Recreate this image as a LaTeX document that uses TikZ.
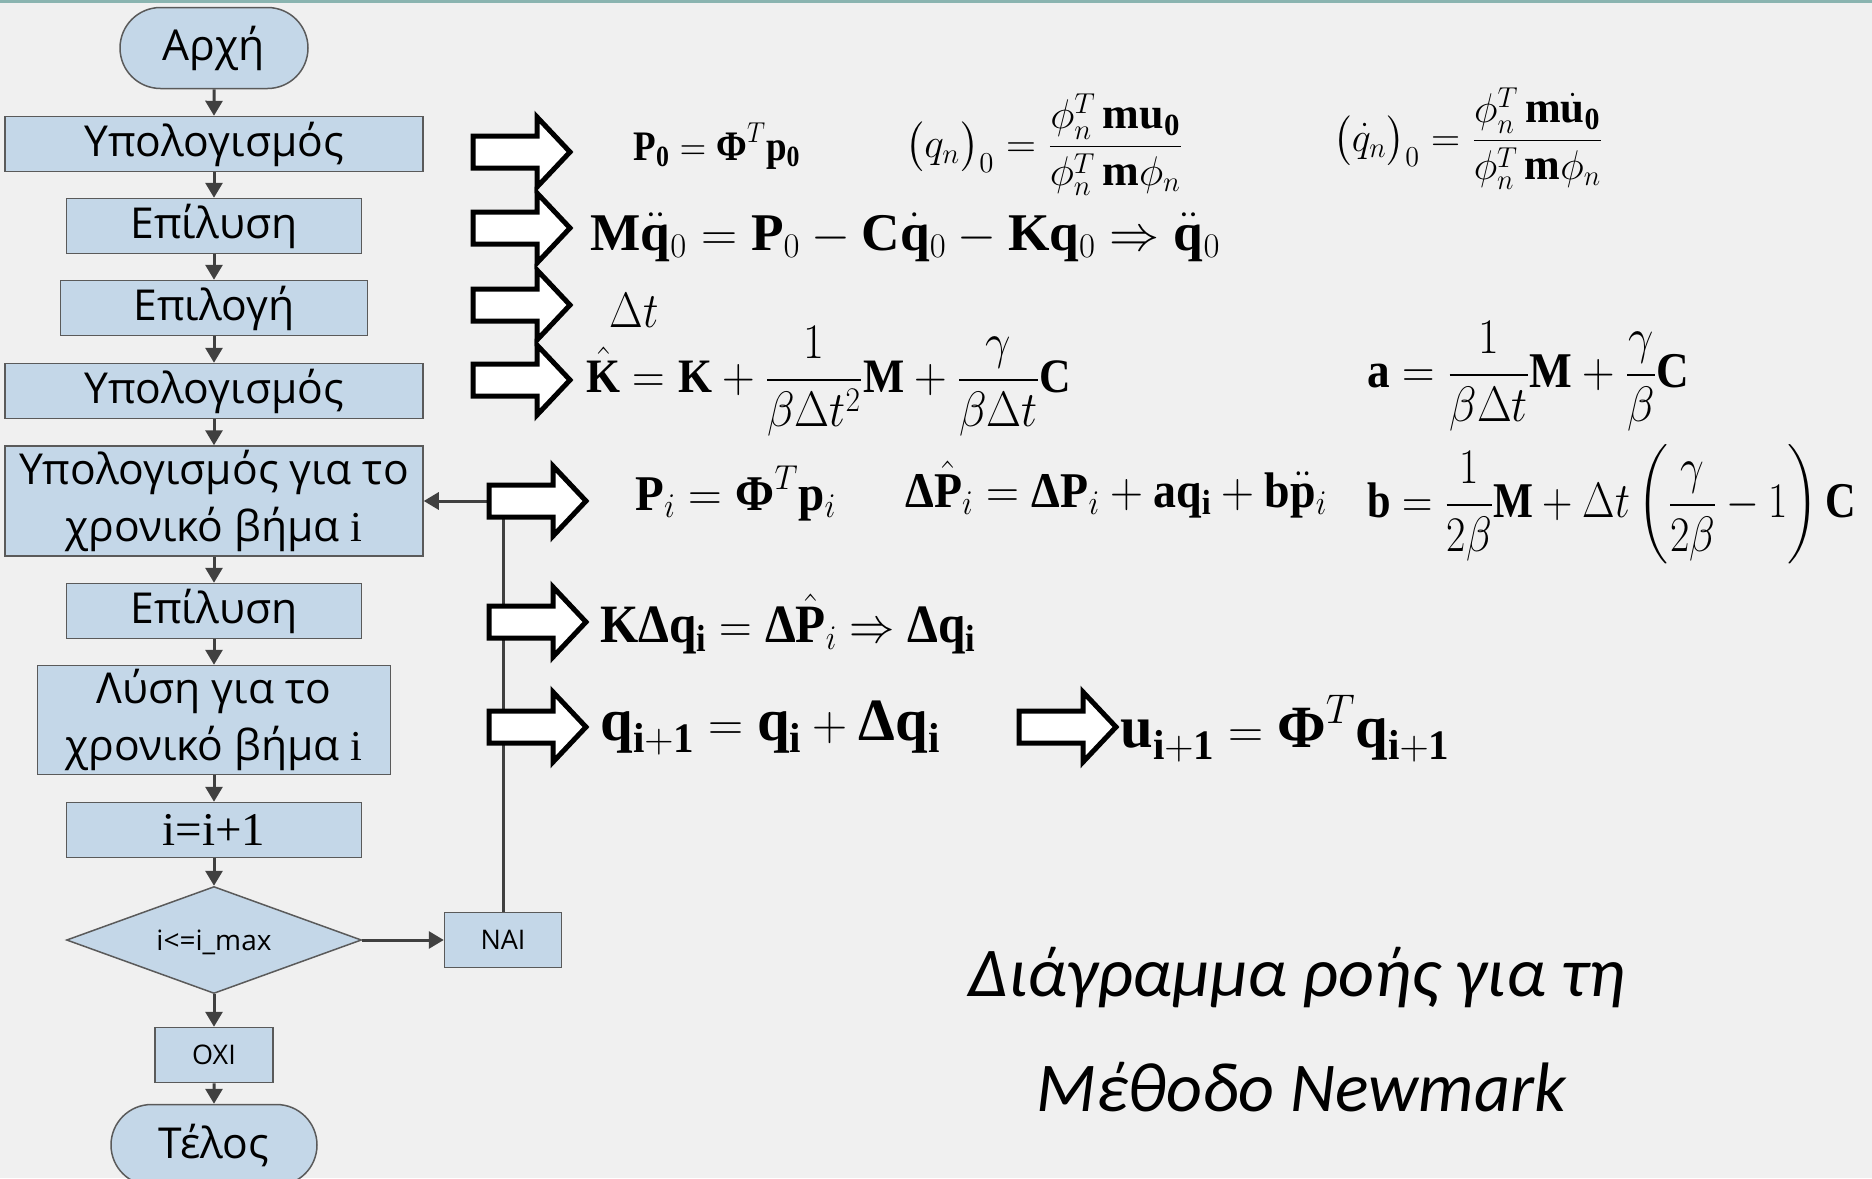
\documentclass[tikz,border=0pt]{standalone}
\usepackage{amsmath}
\usepackage{fontspec}
\setmainfont{Liberation Serif}
\setmathrm{Liberation Serif}
\setboldmathrm{Liberation Serif}
\newfontfamily\fcfont{Open Sans}
\newfontfamily\titlefont{Carlito}
\usetikzlibrary{arrows.meta,shapes.geometric,shapes.misc}

\definecolor{bgcol}{RGB}{240,240,240}
\definecolor{topline}{RGB}{138,180,176}
\definecolor{fcfill}{RGB}{196,215,232}
\definecolor{fcline}{RGB}{90,90,90}
\definecolor{flowgray}{RGB}{64,64,64}

% formula of given width (pt), font size (pt) and content, height kept
\newcommand\eqbox[3]{\resizebox{#1}{\height}{\fontsize{#2}{#2}\selectfont$\displaystyle #3$}}
\newcommand\bfi{\mathbf{i}}
\newcommand\bPhi{\text{\bfseries Φ}}
\newcommand\bDelta{\text{\bfseries Δ}}
% centred text that takes no room, so a shape keeps its set size
\newcommand\nosize[1]{\makebox[0pt]{\raisebox{-0.36em}[0pt][0pt]{#1}}}

\tikzset{
  fcbox/.style={draw=fcline, fill=fcfill, line width=0.75pt, inner sep=0pt,
    align=center, font=\fcfont\fontsize{21.3}{28.5}\selectfont},
  term/.style={fcbox, rounded rectangle},
  smallbox/.style={fcbox, font=\fcfont\fontsize{13.5}{15}\selectfont},
  decide/.style={fcbox, diamond, font=\fcfont\fontsize{14}{16}\selectfont},
  flow/.style={draw=flowgray, line width=1.5pt, -{Triangle[width=8.5pt,length=7.5pt]}},
  eq/.style={anchor=base west, inner sep=0pt},
  bigarrow/.pic={
    \draw[line width=2.5pt, fill=white, line join=miter]
      (0,-16) -- (64,-16) -- (64,-35) -- (97,0) -- (64,35) -- (64,16) -- (0,16) -- cycle;
  }
}

\begin{document}
\begin{tikzpicture}[x=0.5pt,y=-0.5pt]
\useasboundingbox (0,0) rectangle (1872,1178);
\clip (0,0) rectangle (1872,1178);
\fill[bgcol] (0,0) rectangle (1872,1178);
\fill[topline] (0,0) rectangle (1872,3);

% flowchart
\node[term, minimum width=94pt, minimum height=40.5pt] (start) at (214,48) {Αρχή};
\node[fcbox, minimum width=209pt, minimum height=27.5pt] (b1) at (214,144) {Υπολογισμός};
\node[fcbox, minimum width=147.5pt, minimum height=27.5pt] (b2) at (214,226) {Επίλυση};
\node[fcbox, minimum width=153.5pt, minimum height=27.5pt] (b3) at (214,308) {Επιλογή};
\node[fcbox, minimum width=209pt, minimum height=27.5pt] (b4) at (214,391) {Υπολογισμός};
\node[fcbox, minimum width=209pt, minimum height=55pt] (b5) at (214,501)
  {Υπολογισμός για το\\χρονικό βήμα {\rmfamily i}};
\node[fcbox, minimum width=147.5pt, minimum height=27.5pt] (b6) at (214,611) {Επίλυση};
\node[fcbox, minimum width=176.5pt, minimum height=54.5pt] (b7) at (214,720)
  {Λύση για το\\χρονικό βήμα {\rmfamily i}};
\node[fcbox, minimum width=147.5pt, minimum height=27.5pt,
  font=\rmfamily\fontsize{23.5}{25}\selectfont] (b8) at (214,830) {i=i+1};
\node[decide, minimum width=147.5pt, minimum height=53.5pt] (dec) at (214,940) {\nosize{i<=i\_max}};
\node[smallbox, minimum width=58.5pt, minimum height=27.5pt] (nai) at (503,940) {ΝΑΙ};
\node[smallbox, minimum width=59pt, minimum height=27.5pt] (oxi) at (214,1055) {ΟΧΙ};
\node[term, minimum width=103pt, minimum height=40.5pt] (end) at (214,1145) {Τέλος};

\draw[flow] (start) -- (b1);
\draw[flow] (b1) -- (b2);
\draw[flow] (b2) -- (b3);
\draw[flow] (b3) -- (b4);
\draw[flow] (b4) -- (b5);
\draw[flow] (b5) -- (b6);
\draw[flow] (b6) -- (b7);
\draw[flow] (b7) -- (b8);
\draw[flow] (b8) -- (dec);
\draw[flow] (dec) -- (oxi);
\draw[flow] (oxi) -- (end);
\draw[flow] (dec) -- (nai);
\draw[flow] (nai.north) |- (b5.east);

% block arrows
\pic at (473,152) {bigarrow};
\pic at (473,228) {bigarrow};
\pic at (473,305) {bigarrow};
\pic at (473,380) {bigarrow};
\pic at (489,501) {bigarrow};
\pic at (489,622) {bigarrow};
\pic at (489,727) {bigarrow};
\pic at (1019,727) {bigarrow};

% formulas
\node[eq] (e1a) at (633,160) {\eqbox{83.5pt}{21}{\mathbf{P}_{\mathbf{0}}=\bPhi^{T}\mathbf{p}_{\mathbf{0}}}};
\node[eq] (e1b) at (905,157) {\eqbox{139pt}{22}{\bigl(q_n\bigr)_0=\frac{\phi_n^T\,\mathbf{mu}_{\mathbf{0}}}{\phi_n^T\,\mathbf{m}\phi_n}}};
\node[eq] (e1c) at (1333,151) {\eqbox{135pt}{22}{\bigl(\dot q_n\bigr)_0=\frac{\phi_n^T\,\mathbf{m}\dot{\mathbf{u}}_{\mathbf{0}}}{\phi_n^T\,\mathbf{m}\phi_n}}};
\node[eq] (e2) at (590,250) {\eqbox{315pt}{26.5}{\mathbf{M}\ddot{\mathbf{q}}_0=\mathbf{P}_0-\mathbf{C}\dot{\mathbf{q}}_0-\mathbf{K}\mathbf{q}_0\Rightarrow\ddot{\mathbf{q}}_0}};
\node[eq] (e3) at (609,327) {\eqbox{24.5pt}{26}{\Delta t}};
\node[eq] (e4) at (586,392) {\eqbox{242.5pt}{24}{\hat{\mathbf{K}}=\mathbf{K}+\frac{1}{\beta\Delta t^2}\mathbf{M}+\frac{\gamma}{\beta\Delta t}\mathbf{C}}};
\node[eq] (ea) at (1367,387) {\eqbox{161pt}{25}{\mathbf{a}=\frac{1}{\beta\Delta t}\mathbf{M}+\frac{\gamma}{\beta}\mathbf{C}}};
\node[eq] (e5a) at (635,510) {\eqbox{100.5pt}{25}{\mathbf{P}_i=\bPhi^T\mathbf{p}_i}};
\node[eq] (e5b) at (905,507) {\eqbox{211pt}{25}{\bDelta\hat{\mathbf{P}}_i=\bDelta\mathbf{P}_i+\mathbf{a}\mathbf{q}_{\bfi}+\mathbf{b}\ddot{\mathbf{p}}_i}};
\node[eq] (eb) at (1367,517) {\eqbox{244.5pt}{25}{\mathbf{b}=\frac{1}{2\beta}\mathbf{M}+\Delta t\left(\frac{\gamma}{2\beta}-1\right)\mathbf{C}}};
\node[eq] (e6) at (600,642) {\eqbox{188pt}{27}{\mathbf{K}\bDelta\mathbf{q}_{\bfi}=\bDelta\hat{\mathbf{P}}_i\Rightarrow\bDelta\mathbf{q}_{\bfi}}};
\node[eq] (e7a) at (600,740) {\eqbox{170pt}{30}{\mathbf{q}_{\mathbf{i+1}}=\mathbf{q}_{\bfi}+\bDelta\mathbf{q}_{\bfi}}};
\node[eq] (e7b) at (1120,747) {\eqbox{165pt}{30}{\mathbf{u}_{\mathbf{i+1}}=\bPhi^T\mathbf{q}_{\mathbf{i+1}}}};

% caption
\node[anchor=base, inner sep=0pt, font=\titlefont\itshape\fontsize{35}{40}\selectfont] (t1) at (1297,996) {Διάγραμμα ροής για τη};
\node[anchor=base, inner sep=0pt, font=\titlefont\itshape\fontsize{35}{40}\selectfont] (t2) at (1301,1111) {Μέθοδο Newmark};
\end{tikzpicture}
\end{document}
